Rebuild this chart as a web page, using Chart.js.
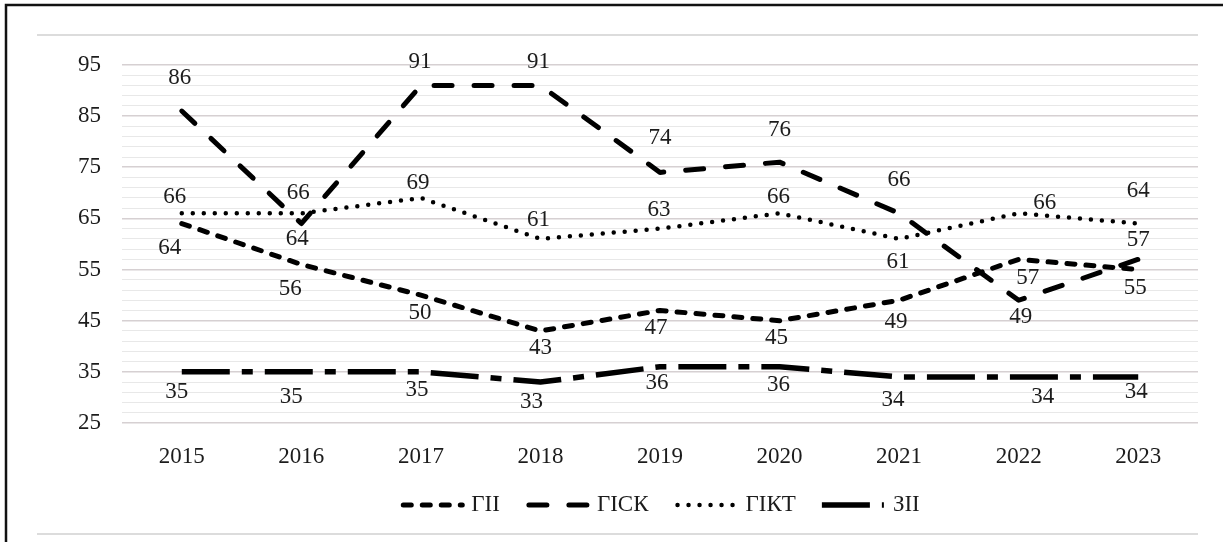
<!DOCTYPE html>
<html>
<head>
<meta charset="utf-8">
<script src="https://cdn.jsdelivr.net/npm/chart.js@4"></script>
<style>
  html, body { margin: 0; padding: 0; background: #fff; }
  #wrap { width: 1223px; height: 542px; position: relative; }
</style>
</head>
<body>
<div id="wrap"><canvas id="chart"></canvas></div>
<script>
(function () {
  'use strict';

  // --- Data ---
  var years = ['2015', '2016', '2017', '2018', '2019', '2020', '2021', '2022', '2023'];
  var seriesNames = ['ГІІ', 'ГІСК', 'ГІКТ', 'ЗІІ'];
  var gii  = [64, 56, 50, 43, 47, 45, 49, 57, 55];
  var gisk = [86, 64, 91, 91, 74, 76, 66, 49, 57];
  var gikt = [66, 66, 69, 61, 63, 66, 61, 66, 64];
  var zii  = [35, 35, 35, 33, 36, 36, 34, 34, 34];
  var yTickLabels = [25, 35, 45, 55, 65, 75, 85, 95];

  // --- Label placement (pixel shifts from each point) ---
  var giiShift  = [[-12, 24], [-11, 24], [-1, 18], [0, 17], [-4, 17], [-3, 17], [-3, 22], [9, 19], [-3, 18]];
  var giskShift = [[-2, -33], [-4, 15], [-1, -24], [-2, -24], [0, -34], [0, -32], [0, -33], [2, 17], [0, -19]];
  var giktShift = [[-7, -16], [-3, -20], [-3, -15], [-2, -19], [-1, -19], [-1, -16], [-1, 23], [26, -10], [0, -33]];
  var ziiShift  = [[-5, 20], [-10, 25], [-4, 18], [-9, 20], [-3, 16], [-1, 18], [-6, 23], [24, 20], [-2, 15]];

  var FONT = "'Liberation Serif', 'Times New Roman', serif";
  var TEXT = '#1c1c1c';

  function lineSet(label, data, dash, cap, width, shift) {
    return {
      label: label,
      data: data,
      borderColor: '#000',
      backgroundColor: '#000',
      borderWidth: width,
      borderDash: dash,
      borderCapStyle: cap,
      borderJoinStyle: 'round',
      pointRadius: 0,
      pointHoverRadius: 0,
      tension: 0,
      fill: false,
      labelShift: shift
    };
  }

  // Frame, border and value labels
  var decorPlugin = {
    id: 'decor',
    beforeDraw: function (chart) {
      var cx = chart.ctx;
      cx.save();
      cx.fillStyle = '#fff';
      cx.fillRect(0, 0, chart.width, chart.height);
      cx.strokeStyle = '#dcdcdc';
      cx.lineWidth = 2;
      cx.beginPath();
      cx.moveTo(37, 35); cx.lineTo(1198, 35);
      cx.moveTo(37, 534); cx.lineTo(1198, 534);
      cx.stroke();
      cx.strokeStyle = '#111';
      cx.lineWidth = 2.5;
      cx.beginPath();
      cx.moveTo(6, chart.height); cx.lineTo(6, 5); cx.lineTo(chart.width, 5);
      cx.stroke();
      cx.restore();
    },
    afterDatasetsDraw: function (chart) {
      var cx = chart.ctx;
      cx.save();
      cx.font = '23px ' + FONT;
      cx.fillStyle = TEXT;
      cx.textAlign = 'center';
      cx.textBaseline = 'middle';
      chart.data.datasets.forEach(function (ds, di) {
        var meta = chart.getDatasetMeta(di);
        meta.data.forEach(function (pt, i) {
          var s = ds.labelShift[i];
          cx.fillText(String(ds.data[i]), pt.x + s[0], pt.y + s[1]);
        });
      });
      cx.restore();
    },
    afterDraw: function (chart) {
      // Legend with line samples
      var cx = chart.ctx;
      var sets = chart.data.datasets;
      var sampleW = 62, gapText = 9, gapItem = 26;
      cx.save();
      cx.font = '23px ' + FONT;
      var total = 0;
      sets.forEach(function (ds, i) {
        total += sampleW + gapText + cx.measureText(ds.label).width;
        if (i < sets.length - 1) total += gapItem;
      });
      var area = chart.chartArea;
      var x = (area.left + area.right) / 2 - total / 2;
      var y = 505;
      sets.forEach(function (ds) {
        cx.strokeStyle = '#000';
        cx.lineWidth = ds.borderWidth;
        cx.lineCap = ds.borderCapStyle;
        cx.setLineDash(ds.borderDash);
        cx.beginPath();
        cx.moveTo(x + (ds.borderCapStyle === 'round' ? 3 : 0), y);
        cx.lineTo(x + sampleW, y);
        cx.stroke();
        cx.setLineDash([]);
        x += sampleW + gapText;
        cx.fillStyle = TEXT;
        cx.textAlign = 'left';
        cx.textBaseline = 'middle';
        cx.fillText(ds.label, x, y);
        x += cx.measureText(ds.label).width + gapItem;
      });
      cx.restore();
    }
  };

  function isMajor(v) {
    return yTickLabels.indexOf(v) !== -1;
  }

  var ctx = document.getElementById('chart').getContext('2d');
  new Chart(ctx, {
    type: 'line',
    data: {
      labels: years,
      datasets: [
        lineSet(seriesNames[0], gii,  [8, 11], 'round', 5, giiShift),
        lineSet(seriesNames[1], gisk, [18, 22], 'round', 5, giskShift),
        lineSet(seriesNames[2], gikt, [0, 11], 'round', 4.5, giktShift),
        lineSet(seriesNames[3], zii,  [48, 12, 11, 12], 'butt', 5.5, ziiShift)
      ]
    },
    options: {
      responsive: true,
      maintainAspectRatio: false,
      animation: false,
      layout: { padding: { top: 65, right: 25, left: 0, bottom: 0 } },
      plugins: {
        legend: { display: false },
        tooltip: { enabled: false }
      },
      scales: {
        x: {
          offset: true,
          afterFit: function (scale) { scale.height = 119; },
          grid: { display: false, drawTicks: false, offset: true },
          border: { display: false },
          ticks: {
            color: TEXT,
            padding: 20,
            maxRotation: 0,
            font: { family: FONT, size: 23 }
          }
        },
        y: {
          min: 25,
          max: 95,
          afterFit: function (scale) { scale.width = 122; },
          grid: {
            drawTicks: false,
            color: function (c) { return isMajor(c.tick.value) ? '#d6d0d2' : '#e8e8e8'; },
            lineWidth: function (c) { return isMajor(c.tick.value) ? 1.6 : 1; }
          },
          border: { display: false },
          ticks: {
            stepSize: 2,
            maxTicksLimit: 100,
            autoSkip: false,
            padding: 21,
            color: TEXT,
            font: { family: FONT, size: 23 },
            callback: function (v) { return isMajor(v) ? String(v) : ''; }
          }
        }
      }
    },
    plugins: [decorPlugin]
  });
})();
</script>
</body>
</html>
